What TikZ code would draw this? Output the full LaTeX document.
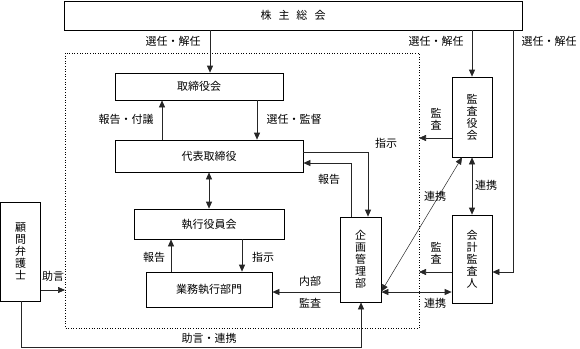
\documentclass[tikz,border=0pt]{standalone}
\usepackage{fontspec}
\setmainfont{Noto Sans CJK JP}
\usetikzlibrary{arrows.meta}
\begin{document}
\begin{tikzpicture}[x=1pt,y=-1pt,
  box/.style={draw=black,line width=0.7pt,inner sep=0pt,align=center,font=\fontsize{11}{12}\selectfont},
  lbl/.style={inner sep=0pt,align=center,font=\fontsize{11}{12}\selectfont},
  conn/.style={draw=black!85,line width=0.7pt},
  arr/.style={conn,-{Triangle[length=7pt,width=6pt]}},
  darr/.style={conn,{Triangle[length=7pt,width=6pt]}-{Triangle[length=7pt,width=6pt]}}]
\useasboundingbox (0,0) rectangle (580,348);
% boxes
\node[box,minimum width=458pt,minimum height=29pt] (kabu) at (293,15.5) {株\hspace{7pt}主\hspace{7pt}総\hspace{7pt}会};
\draw[dotted,line width=0.6pt] (65,53) rectangle (419,328);
\coordinate (dl) at (65,290);
\coordinate (dr) at (419,0);
\node[box,minimum width=168pt,minimum height=27pt] (tori) at (199,86.5) {取締役会};
\node[box,minimum width=188pt,minimum height=32pt] (daihyo) at (209,156) {代表取締役};
\node[box,minimum width=150pt,minimum height=30pt] (shikko) at (209,224) {執行役員会};
\node[box,minimum width=126pt,minimum height=35pt] (gyomu) at (209,289.5) {業務執行部門};
\node[box,minimum width=40pt,minimum height=99pt] (komon) at (20.5,251.5) {顧\\問\\弁\\護\\士};
\node[box,minimum width=41pt,minimum height=85pt] (kikaku) at (360.5,259.5) {企\\画\\管\\理\\部};
\node[box,minimum width=40pt,minimum height=80pt] (kansa) at (472,117) {監\\査\\役\\会};
\node[box,minimum width=40pt,minimum height=88pt] (kaikei) at (472,259) {会\\計\\監\\査\\人};
% x positions
\coordinate (xa) at (210,0);
\coordinate (xb) at (472,0);
\coordinate (xc) at (513,0);
\coordinate (xd) at (162,0);
\coordinate (xe) at (257,0);
\coordinate (xf) at (171,0);
\coordinate (xg) at (242,0);
\coordinate (xh) at (368,0);
\coordinate (xi) at (351,0);
\coordinate (xk) at (21,0);
\coordinate (xm) at (361,0);
\coordinate (ya) at (0,152);
\coordinate (yb) at (0,163);
\coordinate (yc) at (0,272);
\coordinate (yd) at (0,292);
\coordinate (ye) at (0,138);
\coordinate (yf) at (0,347);
% connectors
\draw[arr] (kabu.south -| xa) -- (tori.north -| xa);
\draw[arr] (kabu.south -| xb) -- (kansa.north);
\draw[arr] (kabu.south -| xc) -- (xc |- yc) -- (kaikei.east |- yc);
\draw[arr] (daihyo.north -| xd) -- (tori.south -| xd);
\draw[arr] (tori.south -| xe) -- (daihyo.north -| xe);
\draw[darr] (daihyo.south) -- (shikko.north);
\draw[arr] (gyomu.north -| xf) -- (shikko.south -| xf);
\draw[arr] (shikko.south -| xg) -- (gyomu.north -| xg);
\draw[arr] (daihyo.east |- ya) -- (xh |- ya) -- (kikaku.north -| xh);
\draw[arr] (kikaku.north -| xi) -- (xi |- yb) -- (daihyo.east |- yb);
\draw[arr] (kikaku.west |- yd) -- (gyomu.east |- yd);
\draw[arr] (komon.east |- dl) -- (dl);
\draw[arr] (komon.south -| xk) -- (xk |- yf) -- (xm |- yf) -- (kikaku.south -| xm);
\draw[arr] (kansa.west |- ye) -- (dr |- ye);
\draw[darr,line width=0.5pt] ([xshift=-10pt]kansa.south) -- ([yshift=-32pt]kikaku.east);
\draw[darr] (kansa.south) -- (kaikei.north);
\draw[arr] (kaikei.west |- yc) -- (dr |- yc);
\draw[darr] (kikaku.east |- yd) -- (kaikei.west |- yd);
% labels
\node[lbl] (l1) at (173,41) {選任・解任};
\node[lbl] (l2) at (436,41) {選任・解任};
\node[lbl] (l3) at (549,41) {選任・解任};
\node[lbl] (l4) at (126,119) {報告・付議};
\node[lbl] (l5) at (294,119) {選任・監督};
\node[lbl] (l6) at (154,257) {報告};
\node[lbl] (l7) at (263,257) {指示};
\node[lbl] (l8) at (386,143) {指示};
\node[lbl] (l9) at (329,179) {報告};
\node[lbl] (l10) at (310,281) {内部};
\node[lbl] (l11) at (310,303) {監査};
\node[lbl] (l12) at (53,276) {助言};
\node[lbl] (l13) at (209,338) {助言・連携};
\node[lbl] (l14) at (436,119) {監\\査};
\node[lbl] (l15) at (435,196) {連携};
\node[lbl] (l16) at (486,185) {連携};
\node[lbl] (l17) at (436,253) {監\\査};
\node[lbl] (l18) at (435,303) {連携};
\end{tikzpicture}
\end{document}
